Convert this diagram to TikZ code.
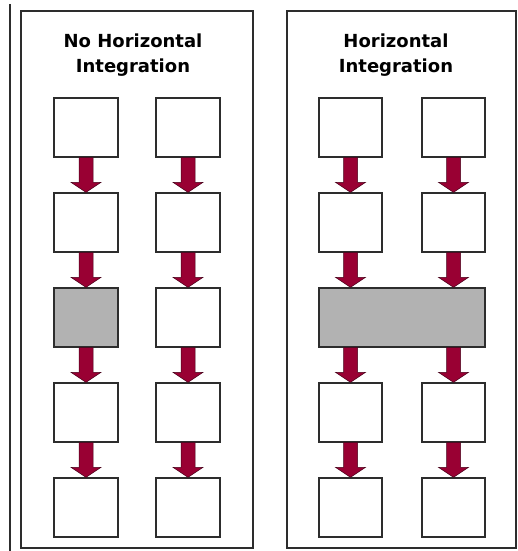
\documentclass[tikz,border=0pt]{standalone}
\usepackage{fontspec}
\setmainfont{DejaVu Sans}
\usetikzlibrary{calc}
\definecolor{arrowred}{RGB}{153,0,51}
\definecolor{arrowedge}{RGB}{70,0,25}
\definecolor{boxedge}{RGB}{45,45,45}
\definecolor{boxgray}{RGB}{178,178,178}

% down arrow from box #1 to box #2, centred on the column of node #3
\newcommand\flowarrow[3]{%
  \path let \p1=(#1.south -| #3), \p2=(#2.north -| #3) in
    [draw=arrowedge, fill=arrowred, line width=0.5pt, line join=miter]
    (\x1-7pt,\y1) -- (\x1+7pt,\y1) -- (\x1+7pt,\y2+10pt) -- (\x1+15pt,\y2+10pt)
    -- (\x1,\y2) -- (\x1-15pt,\y2+10pt) -- (\x1-7pt,\y2+10pt) -- cycle;}

\begin{document}
\begin{tikzpicture}[x=1pt, y=-1pt,
  panel/.style={draw=boxedge, line width=1.5pt},
  stage/.style={draw=boxedge, fill=white, line width=1.3pt, inner sep=0pt,
    minimum width=64pt, minimum height=59pt},
  shared/.style={stage, fill=boxgray},
  heading/.style={font=\bfseries\fontsize{18}{25}\selectfont, align=center, inner sep=0pt, anchor=base}]
  \useasboundingbox (0,0) rectangle (517,551);

  % margin rule and the two panels
  \draw[boxedge, line width=1.5pt] (10,4) -- (10,551);
  \draw[panel] (21,11) rectangle (253,548);
  \draw[panel] (287,11) rectangle (516,548);

  % headings (anchored on the baseline of the second line)
  \node[heading] (hl) at (133,73) {No Horizontal\\Integration};
  \node[heading] (hr) at (396,73) {Horizontal\\Integration};

  % left panel: two independent columns
  \foreach \r/\y in {1/127.5,2/222.5,4/412.5,5/507.5}{
    \node[stage] (la\r) at (86,\y) {};
    \node[stage] (lb\r) at (188,\y) {};
  }
  \node[shared] (la3) at (86,317.5) {};
  \node[stage]  (lb3) at (188,317.5) {};

  % right panel: columns joined in the middle
  \foreach \r/\y in {1/127.5,2/222.5,4/412.5,5/507.5}{
    \node[stage, minimum width=63pt] (ra\r) at (350.5,\y) {};
    \node[stage, minimum width=63pt] (rb\r) at (453.5,\y) {};
  }
  \node[shared, minimum width=166pt] (rm) at (402,317.5) {};

  % connectors
  \foreach \c in {la,lb}{
    \flowarrow{\c1}{\c2}{\c1}
    \flowarrow{\c2}{\c3}{\c1}
    \flowarrow{\c3}{\c4}{\c1}
    \flowarrow{\c4}{\c5}{\c1}
  }
  \foreach \c in {ra,rb}{
    \flowarrow{\c1}{\c2}{\c1}
    \flowarrow{\c2}{rm}{\c1}
    \flowarrow{rm}{\c4}{\c1}
    \flowarrow{\c4}{\c5}{\c1}
  }
\end{tikzpicture}
\end{document}
